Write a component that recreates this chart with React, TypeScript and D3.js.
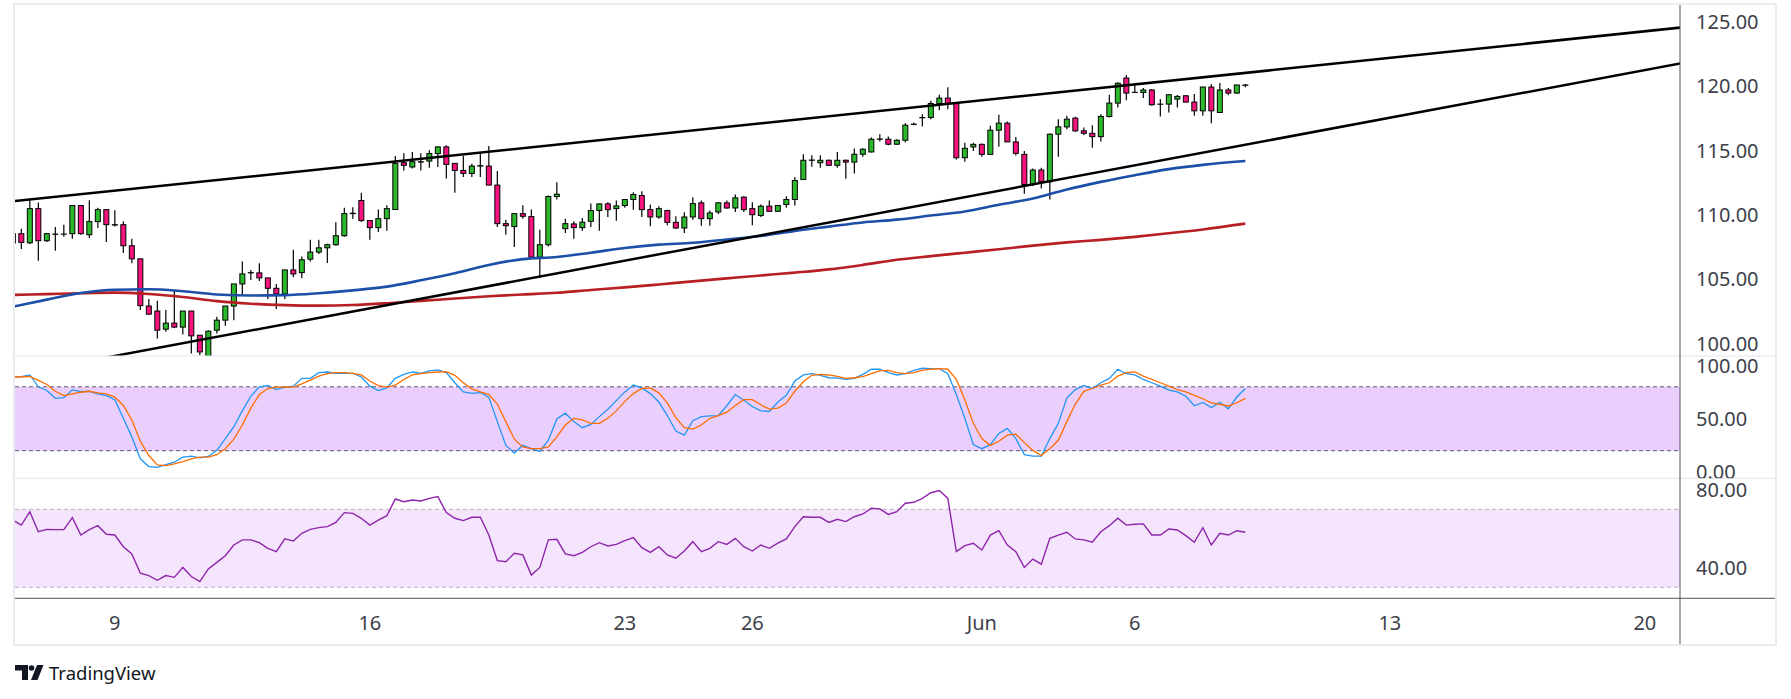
import * as d3 from 'd3'

// ---- data (4h candles, index 0 = first visible bar) ----

// [open, high, low, close]
const ohlc: [number, number, number, number][] = [
  [107.8, 108.71, 107.67, 108.53], [108.53, 108.92, 107.33, 107.85], [107.82, 111.26, 107.72, 110.48],
  [110.48, 110.95, 106.42, 107.98], [107.98, 108.58, 107.88, 108.53], [108.48, 109.05, 107.2, 108.5],
  [108.49, 109.23, 108.3, 108.5], [108.53, 110.72, 108.14, 110.72], [110.72, 110.72, 108.45, 108.53],
  [108.45, 111.13, 108.19, 109.47], [109.47, 110.54, 108.97, 110.4], [110.4, 110.4, 107.88, 109.23],
  [109.23, 110.35, 109.08, 109.2], [109.23, 109.49, 107.02, 107.59], [107.59, 108.14, 106.23, 106.57],
  [106.57, 106.57, 102.59, 102.93], [102.9, 103.45, 102.2, 102.27], [102.51, 103.32, 100.37, 101.02],
  [101.1, 102.59, 100.89, 101.57], [101.57, 104.1, 101.2, 101.26], [101.26, 102.51, 100.68, 102.51],
  [102.51, 102.51, 99.2, 100.58], [100.63, 100.63, 99.07, 99.33], [98.8, 101.02, 98.5, 100.94],
  [101.02, 102.06, 100.76, 101.8], [101.8, 102.9, 101.36, 102.9], [102.9, 104.62, 101.8, 104.62],
  [104.62, 106.37, 103.81, 105.4], [105.48, 105.71, 104.93, 105.5], [105.48, 106.23, 104.85, 105.09],
  [105.09, 105.09, 103.45, 104.28], [104.28, 104.62, 102.66, 103.84], [103.84, 105.71, 103.45, 105.71],
  [105.71, 107.28, 105.14, 105.4], [105.5, 106.76, 105.06, 106.5], [106.55, 108.06, 106.37, 107.1],
  [107.1, 108.06, 106.94, 107.43], [107.43, 107.75, 106.24, 107.67], [107.67, 109.42, 107.59, 108.37],
  [108.37, 110.54, 108.29, 110.09], [110.09, 110.59, 109.7, 110.12], [111.11, 111.71, 109.44, 109.55],
  [109.55, 109.55, 108.06, 109.0], [109.0, 110.41, 108.66, 109.7], [109.7, 110.74, 108.76, 110.48],
  [110.41, 114.58, 110.41, 114.0], [114.05, 114.78, 113.45, 113.85], [113.72, 114.89, 113.61, 114.13],
  [114.13, 114.78, 113.45, 114.1], [114.18, 115.02, 113.66, 114.76], [114.76, 115.36, 113.72, 115.28],
  [115.28, 115.41, 112.83, 113.92], [114.0, 114.0, 111.71, 113.45], [113.45, 114.58, 112.93, 113.22],
  [113.22, 113.98, 112.93, 113.79], [113.79, 114.76, 112.93, 113.82], [113.79, 115.36, 112.31, 112.31],
  [112.31, 113.4, 109.05, 109.31], [109.31, 109.62, 108.45, 109.15], [109.08, 110.14, 107.49, 110.09],
  [110.09, 110.74, 109.7, 109.88], [109.86, 110.41, 106.63, 106.7], [106.7, 108.84, 105.11, 107.67],
  [107.67, 111.5, 107.54, 111.42], [111.42, 112.54, 111.19, 111.6], [108.92, 109.7, 108.58, 109.31],
  [109.29, 109.49, 108.14, 109.0], [109.0, 109.75, 108.76, 109.42], [109.49, 110.88, 109.05, 110.33],
  [110.33, 110.85, 108.76, 110.85], [110.85, 110.98, 109.83, 110.4], [110.48, 111.11, 109.54, 110.69],
  [110.72, 111.19, 110.54, 111.19], [111.19, 111.76, 110.4, 111.58], [111.5, 111.84, 109.83, 110.4],
  [110.4, 110.8, 109.1, 109.83], [109.83, 110.67, 109.7, 110.48], [110.33, 110.4, 109.18, 109.41],
  [109.41, 109.88, 108.89, 108.97], [108.97, 110.2, 108.58, 109.83], [109.83, 111.37, 109.62, 110.87],
  [110.93, 111.11, 109.15, 109.7], [109.7, 110.33, 109.15, 110.14], [110.22, 110.98, 110.07, 110.93],
  [110.93, 111.11, 110.46, 110.53], [110.53, 111.58, 110.22, 111.32], [111.37, 111.45, 110.22, 110.4],
  [110.48, 110.98, 109.18, 110.01], [109.94, 110.8, 109.83, 110.67], [110.67, 111.11, 110.22, 110.27],
  [110.27, 110.72, 110.22, 110.72], [110.8, 111.45, 110.54, 111.19], [111.19, 112.93, 110.72, 112.67],
  [112.75, 114.71, 112.75, 114.24], [114.24, 114.63, 113.74, 114.26], [114.05, 114.63, 113.66, 114.24],
  [114.24, 114.31, 113.79, 113.85], [113.85, 114.89, 113.66, 114.24], [114.24, 114.31, 112.8, 114.1],
  [114.1, 115.15, 113.22, 114.71], [114.71, 115.17, 114.52, 115.1], [114.89, 116.01, 114.84, 115.88],
  [115.88, 116.27, 115.7, 115.9], [115.88, 116.09, 115.41, 115.49], [115.49, 115.88, 115.44, 115.8],
  [115.8, 117.13, 115.62, 116.97], [117.03, 117.18, 116.97, 117.05], [117.55, 117.83, 116.87, 117.57],
  [117.57, 118.87, 117.44, 118.66], [118.66, 119.34, 118.14, 119.08], [119.08, 119.92, 118.22, 118.66],
  [118.66, 118.66, 114.31, 114.44], [114.44, 115.61, 114.13, 115.17], [115.28, 115.61, 114.96, 115.48],
  [115.48, 115.54, 114.52, 114.7], [114.7, 116.92, 114.7, 116.58], [116.58, 117.78, 115.3, 117.13],
  [117.13, 117.26, 115.67, 115.67], [115.67, 116.06, 114.62, 114.78], [114.7, 114.96, 111.63, 112.36],
  [112.41, 113.61, 112.23, 113.48], [113.48, 113.66, 112.04, 112.57], [112.57, 116.32, 111.18, 116.27],
  [116.27, 117.44, 114.52, 116.84], [116.84, 117.7, 116.66, 117.44], [117.52, 117.62, 116.47, 116.53],
  [116.53, 116.79, 116.21, 116.34], [116.34, 116.97, 115.22, 116.08], [116.08, 117.83, 115.7, 117.65],
  [117.65, 119.34, 117.57, 118.69], [118.69, 120.31, 118.35, 120.23], [120.64, 120.88, 118.92, 119.47],
  [119.52, 120.18, 119.47, 119.53], [119.52, 119.86, 119.08, 119.71], [119.71, 119.78, 118.48, 118.56],
  [118.61, 119.0, 117.65, 118.6], [118.61, 119.39, 117.96, 119.34], [119.0, 119.32, 118.35, 119.21],
  [119.26, 119.32, 118.74, 118.77], [118.77, 119.39, 117.7, 118.09], [118.09, 119.94, 117.7, 119.94],
  [119.94, 120.18, 117.13, 118.09], [117.96, 120.25, 117.96, 119.71], [119.71, 119.86, 119.32, 119.47],
  [119.47, 120.1, 119.42, 120.1], [120.08, 120.18, 119.92, 120.1],
]

// moving averages, read every 4th bar
const maIndex = [0, 4, 8, 12, 16, 20, 24, 28, 32, 36, 40, 44, 48, 52, 56, 60, 64, 68, 72, 76, 80, 84, 88,
  92, 96, 100, 104, 108, 112, 116, 120, 124, 128, 132, 136, 140, 145]
const maBlue = [102.85, 103.4, 103.92, 104.17, 104.2, 104.05, 103.8, 103.72, 103.75, 103.9, 104.12, 104.41,
  104.9, 105.45, 106.1, 106.55, 106.72, 107.05, 107.42, 107.68, 107.82, 108.08, 108.35, 108.75, 109.08,
  109.4, 109.62, 109.94, 110.26, 110.78, 111.26, 111.97, 112.56, 113.08, 113.55, 113.88, 114.18]
const maRed = [103.76, 103.83, 103.9, 103.94, 103.83, 103.6, 103.28, 103.08, 102.97, 102.93, 102.98, 103.12,
  103.3, 103.48, 103.66, 103.8, 103.93, 104.15, 104.35, 104.58, 104.82, 105.05, 105.28, 105.5, 105.75,
  106.1, 106.5, 106.78, 107.05, 107.32, 107.6, 107.85, 108.05, 108.28, 108.56, 108.86, 109.31]

// trend lines as [bar index, price]
const upperTrend: [number, number][] = [[0, 111.05], [196.4, 124.58]]
const lowerTrend: [number, number][] = [[10, 98.77], [196.4, 121.8]]

const stochK = [89.2, 89.5, 91.1, 80, 76.5, 69.2, 69.8, 77.1, 75.5, 75.8, 73.3, 71.7, 67.9, 50.4, 33.0, 12.4,
  5.1, 4.4, 7.0, 9.2, 13.9, 14.9, 13.3, 14.6, 20.3, 31.4, 42.5, 57.4, 71.1, 80, 81.2, 77.4, 79.7, 80.6, 87.9,
  87.9, 93.3, 93.9, 92.7, 92.7, 92.7, 89.2, 80.6, 76.5, 79.0, 87.9, 91.7, 93.9, 92.5, 94.9, 95.8, 93.3, 83.8,
  75.2, 73.9, 74.6, 70.1, 47.3, 25.0, 17.8, 25.0, 21.9, 19.3, 29.8, 49.8, 55.2, 47.3, 41.6, 44.7, 52.0, 59.0,
  67.0, 75.2, 81.6, 79.0, 73.6, 65.7, 53.0, 38.4, 34.6, 48.2, 52.0, 52.7, 53.0, 62.2, 72.7, 67.3, 61.5, 57.4,
  56.8, 65.7, 72.0, 85.4, 91.1, 92.3, 90.8, 88.5, 88.2, 86.9, 87.9, 91.7, 96.5, 96.5, 93.3, 91.1, 92.3, 95.5,
  97.4, 97.1, 97.1, 92.3, 72.7, 50.4, 25.7, 21.9, 25.7, 36.2, 40.9, 31.4, 16.2, 14.9, 14.9, 31.4, 45.7, 69.5,
  77.4, 81.2, 78.4, 83.8, 87.9, 96.5, 92.3, 91.1, 86.9, 83.8, 80.6, 76.8, 75.2, 71.1, 62.2, 65.4, 60.6, 65.4,
  59.3, 70.4, 78.4]
const stochD = [89.2, 89.2, 89.8, 86, 82.2, 75.8, 71.7, 73.3, 74.9, 75.8, 74.3, 73.3, 70.4, 62.5, 48.9, 28.9,
  15.5, 6.6, 6.0, 7.6, 9.8, 12.4, 13.9, 13.9, 16.2, 21.9, 30.8, 44.1, 60, 72.7, 78.4, 79.7, 80, 79.7, 82.8,
  86.3, 90.1, 92.3, 93.3, 93.3, 92.7, 91.1, 85.4, 81.2, 79.7, 81.6, 86.9, 91.1, 92.3, 93.3, 93.9, 94.3, 90.8,
  83.8, 78.1, 75.2, 72.7, 63.8, 47.3, 30.8, 23.5, 21.9, 21.9, 23.5, 33.0, 44.1, 50.4, 48.9, 45.7, 45.7, 50.4,
  57.4, 66.3, 73.6, 78.4, 79.0, 74.3, 64.7, 51.1, 41.6, 40.3, 44.1, 50.4, 53.0, 56.2, 62.5, 67.9, 67.9, 63.1,
  59.0, 60.0, 64.7, 75.8, 84.7, 90.8, 91.7, 91.1, 89.8, 87.9, 88.5, 89.5, 92.3, 94.9, 95.5, 93.3, 92.3, 93.3,
  95.5, 96.5, 97.1, 96.5, 86.9, 67.9, 45.7, 31.4, 25.0, 28.9, 34.6, 35.5, 27.6, 20.3, 15.5, 21.9, 29.8, 47.3,
  63.8, 75.8, 78.4, 81.6, 83.8, 90.1, 93.3, 93.9, 90.1, 86.9, 83.8, 80.6, 77.4, 75.2, 72.0, 68.8, 65.0, 63.5,
  62.0, 65.0, 69.2]
const rsi = [64.5, 61.9, 68.8, 58.5, 59.7, 59.6, 59.6, 65.7, 56.8, 59.6, 61.6, 57.2, 56.8, 50.8, 47.1, 37.2,
  36.0, 33.6, 36.0, 35.1, 40.2, 35.5, 32.9, 39.4, 42.8, 46.2, 51.7, 54.3, 54.3, 52.9, 50.0, 48.3, 54.9, 53.7,
  57.7, 59.7, 60.6, 61.1, 63.3, 68.3, 67.9, 65.4, 61.9, 64.5, 66.7, 75.3, 73.9, 74.8, 74.3, 75.6, 76.5, 68.3,
  65.4, 64.2, 65.9, 65.9, 56.8, 43.7, 43.1, 47.4, 46.6, 36.3, 40.2, 54.3, 54.6, 47.1, 46.2, 47.9, 50.8, 52.9,
  51.2, 52.0, 53.9, 55.5, 50.3, 47.9, 50.8, 46.6, 44.9, 48.6, 53.4, 48.3, 50.0, 53.4, 52.0, 55.1, 50.8, 48.6,
  51.7, 50.0, 52.6, 54.8, 61.1, 66.2, 65.9, 65.9, 63.3, 64.9, 63.7, 66.2, 67.6, 70.5, 70.2, 67.4, 68.8, 73.1,
  73.6, 75.6, 78.5, 79.6, 75.6, 48.3, 51.4, 52.6, 49.1, 56.8, 59.0, 51.7, 48.3, 40.2, 44.5, 41.9, 55.1, 56.8,
  58.2, 54.8, 54.3, 53.1, 58.5, 61.6, 65.4, 61.9, 62.3, 62.5, 56.8, 56.8, 59.9, 59.4, 56.5, 53.1, 60.6, 51.7,
  57.7, 56.8, 59.0, 58.2]

const priceTicks = [100, 105, 110, 115, 120, 125]
const stochTicks = [0, 50, 100]
const rsiTicks = [40, 80]
const stochBand = [20, 80]
const rsiBand = [30, 70]
const timeTicks = [
  { i: 12, label: '9' }, { i: 42, label: '16' }, { i: 72, label: '23' }, { i: 87, label: '26' },
  { i: 114, label: 'Jun' }, { i: 132, label: '6' }, { i: 162, label: '13' }, { i: 192, label: '20' },
]

// ---- layout ----
const W = 1791
const H = 699
const left = 15
const axisX = 1680
const right = 1776
const top = 4
const mainBottom = 356
const stochBottom = 478.3
const rsiBottom = 598.3
const bottom = 645
const font = '"Noto Sans", "Open Sans", sans-serif'
const textColor = '#3d4049'
const up = '#2cb82c'
const down = '#f7127e'

const x = d3.scaleLinear().domain([0, 196]).range([12.83, 12.83 + 196 * 8.5])
const y = d3.scaleLinear().domain([100, 125]).range([343.3, 22])
const yS = d3.scaleLinear().domain([0, 100]).range([472, 365.5])
const yR = d3.scaleLinear().domain([30, 70]).range([587.3, 509.3])

const fmt = d3.format('.2f')

export default function App() {
  const maLine = (vals: number[]) =>
    d3.line<number>().x((_, k) => x(maIndex[k])).y((v) => y(v)).curve(d3.curveMonotoneX)(vals) || ''
  const oscLine = (vals: number[], scale: d3.ScaleLinear<number, number>) =>
    d3.line<number>().x((_, k) => x(k)).y((v) => scale(v))(vals) || ''
  const trend = (pts: [number, number][]) =>
    d3.line<[number, number]>().x((d) => x(d[0])).y((d) => y(d[1]))(pts) || ''

  return (
    <div style={{ position: 'absolute', left: 0, top: 0 }}>
      <svg width={W} height={H} style={{ display: 'block', fontFamily: font }}>
        <defs>
          <clipPath id="clipMain"><rect x={left} y={top} width={axisX - left} height={mainBottom - top} /></clipPath>
          <clipPath id="clipStoch"><rect x={left} y={mainBottom} width={axisX - left} height={stochBottom - mainBottom} /></clipPath>
          <clipPath id="clipRsi"><rect x={left} y={stochBottom} width={axisX - left} height={rsiBottom - stochBottom} /></clipPath>
          <clipPath id="axMain"><rect x={axisX} y={top} width={right - axisX} height={mainBottom - top} /></clipPath>
          <clipPath id="axStoch"><rect x={axisX} y={mainBottom} width={right - axisX} height={stochBottom - mainBottom} /></clipPath>
          <clipPath id="axRsi"><rect x={axisX} y={stochBottom} width={right - axisX} height={rsiBottom - stochBottom} /></clipPath>
        </defs>
        <rect width={W} height={H} fill="#ffffff" />

        {/* main pane */}
        <g clipPath="url(#clipMain)">
          {ohlc.map(([o, h, l, c], i) => {
            const cx = x(i)
            const yTop = y(Math.max(o, c))
            const yBot = y(Math.min(o, c))
            return (
              <g key={i}>
                <line x1={cx} x2={cx} y1={y(h)} y2={y(l)} stroke="#000" strokeWidth={1.2} />
                <rect x={cx - 2.5} y={yTop} width={5} height={Math.max(0.01, yBot - yTop)}
                  fill={c >= o ? up : down} stroke="#000" strokeWidth={1} />
              </g>
            )
          })}
          <path d={maLine(maRed)} fill="none" stroke="#b71f22" strokeWidth={2.6} />
          <path d={maLine(maBlue)} fill="none" stroke="#1c4fa8" strokeWidth={2.6} />
          <path d={trend(upperTrend)} fill="none" stroke="#000" strokeWidth={2.5} />
          <path d={trend(lowerTrend)} fill="none" stroke="#000" strokeWidth={2.5} />
        </g>

        {/* stochastic pane */}
        <g clipPath="url(#clipStoch)">
          <rect x={left} y={yS(stochBand[1])} width={axisX - left} height={yS(stochBand[0]) - yS(stochBand[1])} fill="#eacffd" />
          {stochBand.map((v) => (
            <line key={v} x1={left} x2={axisX} y1={yS(v)} y2={yS(v)} stroke="#5f5469" strokeWidth={1} strokeDasharray="4 3" />
          ))}
          <path d={oscLine(stochK, yS)} fill="none" stroke="#2196f3" strokeWidth={1.3} />
          <path d={oscLine(stochD, yS)} fill="none" stroke="#ff6d00" strokeWidth={1.3} />
        </g>

        {/* RSI pane */}
        <g clipPath="url(#clipRsi)">
          <rect x={left} y={yR(rsiBand[1])} width={axisX - left} height={yR(rsiBand[0]) - yR(rsiBand[1])} fill="#f4e5fd" />
          {rsiBand.map((v) => (
            <line key={v} x1={left} x2={axisX} y1={yR(v)} y2={yR(v)} stroke="#b9b0c2" strokeWidth={1} strokeDasharray="4 3" />
          ))}
          <path d={oscLine(rsi, yR)} fill="none" stroke="#8e24aa" strokeWidth={1.4} />
        </g>

        {/* separators and axes */}
        <line x1={left} x2={right} y1={mainBottom} y2={mainBottom} stroke="#e0e3eb" strokeWidth={1} />
        <line x1={left} x2={right} y1={stochBottom} y2={stochBottom} stroke="#e0e3eb" strokeWidth={1} />
        <line x1={left} x2={right} y1={rsiBottom} y2={rsiBottom} stroke="#50535e" strokeWidth={1} />
        <line x1={axisX} x2={axisX} y1={top} y2={bottom} stroke="#50535e" strokeWidth={1} />
        <rect x={14} y={top} width={right - 14} height={bottom - top} fill="none" stroke="#e9ebf0" strokeWidth={2} />

        <g fontSize={20} fill={textColor}>
          <g clipPath="url(#axMain)">
            {priceTicks.map((v) => (
              <text key={v} x={1696} y={y(v)} dy="0.36em">{fmt(v)}</text>
            ))}
          </g>
          <g clipPath="url(#axStoch)">
            {stochTicks.map((v) => (
              <text key={v} x={1696} y={yS(v)} dy="0.36em">{fmt(v)}</text>
            ))}
          </g>
          <g clipPath="url(#axRsi)">
            {rsiTicks.map((v) => (
              <text key={v} x={1696} y={yR(v)} dy="0.36em">{fmt(v)}</text>
            ))}
          </g>
          {timeTicks.map((t) => (
            <text key={t.label} x={x(t.i)} y={622.3} dy="0.36em" textAnchor="middle">{t.label}</text>
          ))}
        </g>

        {/* TradingView logo */}
        <g fill="#131722">
          <path d="M15,665 H28 V680 H22 V670.5 H15 Z" />
          <circle cx={31.5} cy={668} r={2.8} />
          <path d="M37,665 H43.5 L37.5,680 H31 Z" />
          <text x={49} y={680} fontSize={18.5} fontFamily={font}>TradingView</text>
        </g>
      </svg>
    </div>
  )
}
